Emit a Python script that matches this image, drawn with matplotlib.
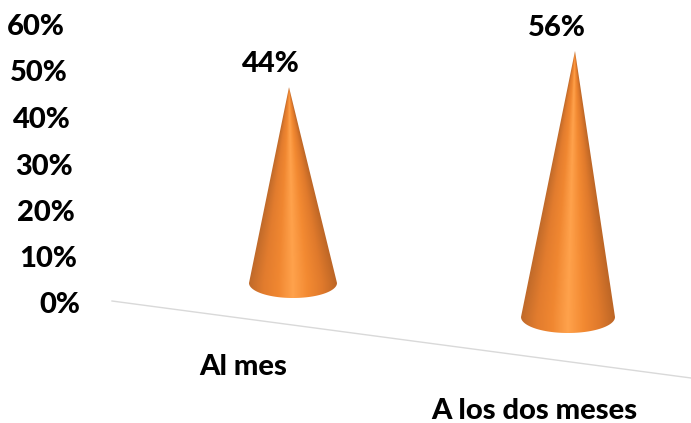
import matplotlib.pyplot as plt
import numpy as np
from matplotlib.colors import LinearSegmentedColormap
from matplotlib.patches import Polygon

plt.rcParams['font.family'] = ['Lato', 'DejaVu Sans']

# Values
categories = ['Al mes', 'A los dos meses']
values = [44, 56]
tick_labels = ['0%', '10%', '20%', '30%', '40%', '50%', '60%']

W, H = 691, 423
FS = 21
WEIGHT = 900
fig = plt.figure(figsize=(W / 100, H / 100), dpi=100)
ax = fig.add_axes([0, 0, 1, 1])
ax.set_xlim(0, W)
ax.set_ylim(H, 0)
ax.axis('off')

cmap = LinearSegmentedColormap.from_list(
    'cone', ['#c06a2a', '#e27c2e', '#f08731', '#ffa24c', '#f38a32', '#e07a2c', '#bd6626'])

# perspective: each cone sits on the slanted floor
cx = [293, 568]
apex_x = [289, 575]
base_y = [283, 317]
half_w = [44, 47]
ell_h = [15, 16]
px_per_unit = [4.45, 4.75]
label_x = [271, 557]
label_y = [64, 28]

for i in range(2):
    top = base_y[i] - values[i] * px_per_unit[i]
    bottom = base_y[i] + ell_h[i] + 1
    # colour follows the cone's surface so the shading converges at the apex
    ys, xs = np.mgrid[top:bottom:300j, cx[i] - half_w[i]:cx[i] + half_w[i]:200j]
    f = np.clip((ys - top) / (base_y[i] - top), 0.001, 1)
    left = apex_x[i] + (cx[i] - half_w[i] - apex_x[i]) * f
    right = apex_x[i] + (cx[i] + half_w[i] - apex_x[i]) * f
    u = np.clip((xs - left) / (right - left), 0, 1)
    im = ax.imshow(u, cmap=cmap, aspect='auto', zorder=2, vmin=0, vmax=1,
                   extent=[cx[i] - half_w[i], cx[i] + half_w[i], bottom, top])
    t = np.linspace(0, np.pi, 60)
    ex = cx[i] + half_w[i] * np.cos(t)
    ey = base_y[i] + ell_h[i] * np.sin(t)
    pts = [(apex_x[i], top)] + list(zip(ex, ey))
    im.set_clip_path(Polygon(pts, closed=True, transform=ax.transData))
    ax.text(label_x[i], label_y[i], f'{values[i]}%', fontsize=FS, fontweight=WEIGHT,
            ha='center', va='center', color='black', zorder=3)

ax.set_xlim(0, W)
ax.set_ylim(H, 0)

# floor line
ax.plot([112, 691], [301, 378], color='#d9d9d9', lw=1, zorder=1)

# value axis labels, slanting left as they go up
tick_right = [80, 77, 75, 73, 71, 68, 65]
tick_y = [305, 259, 213, 167, 120, 73, 27]
for k, lab in enumerate(tick_labels):
    ax.text(tick_right[k], tick_y[k], lab, fontsize=FS, fontweight=WEIGHT, ha='right', va='center')

ax.text(243, 367, categories[0], fontsize=FS, fontweight=WEIGHT, ha='center', va='center')
ax.text(534, 411, categories[1], fontsize=FS, fontweight=WEIGHT, ha='center', va='center')

fig.savefig('out.png', dpi=100)
plt.close()
